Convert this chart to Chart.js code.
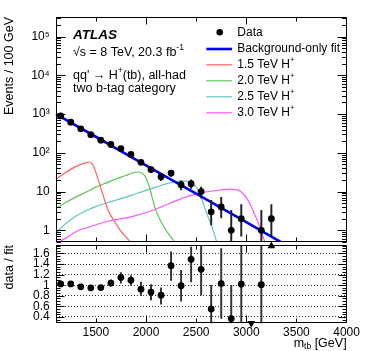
<!DOCTYPE html>
<html><head><meta charset="utf-8">
<script src="https://cdn.jsdelivr.net/npm/chart.js@4/dist/chart.umd.min.js"></script>
<style>
html,body{margin:0;padding:0;background:#fff;}
#wrap{position:relative;width:366px;height:351px;overflow:hidden;background:#fff;}
canvas{position:absolute;left:0;}
#c1{top:0;}
#c2{top:238px;}
</style></head>
<body><div id="wrap"><canvas id="c1" width="366" height="246"></canvas><canvas id="c2" width="366" height="113"></canvas></div>
<script>
// ---------- data ----------
const binCenters = [1150,1250,1350,1450,1550,1650,1750,1850,1950,2050,2150,2250,2350,2450,2550,2650,2750,2850,2950,3050,3150,3250];
const dataCounts = [895,618,417,294,212,164,129,91,57,37,24,30,15,16,10,3,4,1,2,null,1,2];
const dataLow    = [865,593,397,277,198,151,118,81.5,49.5,31,19.1,24.5,11.1,12,6.9,1.37,2.09,0.17,0.71,null,0.17,0.71];
const dataHigh   = [925,643,437,311,227,177,140,100.5,64.5,43,28.9,35.5,18.9,20,13.1,5.92,7.16,3.3,4.64,null,3.3,4.64];

const fitMass = [1100,1500,2000,2500,3000,3343];
const fitVals = [1010,260,47.5,8.8,1.62,0.5];

const sig15Mass = [1100,1200,1300,1400,1430,1460,1490,1515,1540,1570,1600,1625,1650,1700,1750,1800,1845];
const sig15Vals = [21,31,44,56,58,53,38,24,15,8.5,4.8,3.2,2.4,1.5,0.95,0.68,0.5];
const sig20Mass = [1100,1200,1300,1400,1500,1600,1700,1800,1880,1920,1960,1990,2015,2040,2065,2090,2120,2160,2200,2240,2285];
const sig20Vals = [3.6,5.2,7.2,9.6,13,16.5,21,26,31,32,30,25,18,11.5,6.5,3.8,2.4,1.5,1.0,0.72,0.5];
const sig25Mass = [1100,1200,1300,1400,1500,1600,1700,1800,1900,2000,2100,2200,2300,2360,2420,2470,2510,2540,2570,2600,2640,2670,2705];
const sig25Vals = [0.85,1.5,2.3,3.2,4.1,5.0,6.0,7.2,8.8,10.7,13,15.8,18.2,19,18,15.5,12,8,5,3,1.6,1.0,0.5];
const sig30Mass = [1130,1200,1300,1440,1640,1840,1940,2040,2140,2240,2340,2440,2540,2640,2740,2840,2900,2950,3000,3040,3080,3110,3150,3185];
const sig30Vals = [0.5,0.63,0.92,1.24,1.77,2.2,2.6,3.1,3.9,5.0,6.4,7.9,9.1,10.2,11.0,11.6,11.2,9.8,7.0,4.6,2.7,1.8,0.95,0.5];

const ratioVals = [1.025,1.025,0.97,0.95,0.955,1.04,1.145,1.095,0.925,0.87,0.81,1.37,0.99,1.49,1.30,0.55,1.03,0.37,1.02,null,1.01,null];
const ratioLow  = [0.99,0.99,0.935,0.915,0.92,0.98,1.04,1.0,0.8,0.72,0.64,1.09,0.70,1.06,0.81,0.2,0.37,0.1,0.1,null,0.1,null];
const ratioHigh = [1.06,1.06,1.005,0.985,0.99,1.10,1.24,1.18,1.06,1.01,0.95,1.63,1.28,1.72,1.74,1.0,1.69,1.0,2.0,null,3.0,null];
const ratioDownMass = [3050]; // off-scale low
const ratioUpMass = [3250];   // off-scale high

const topTickValues = [1,10,100,1000,10000,100000];
const topTickLabels = ['1','10','10\u00B2','10\u00B3','10\u2074','10\u2075'];
const ratioTickValues = [0.4,0.6,0.8,1.0,1.2,1.4,1.6];
const ratioTickLabels = ['0.4','0.6','0.8','1','1.2','1.4','1.6'];
const xTickValues = [1500,2000,2500,3000,3500,4000];
const xTickLabels = ['1500','2000','2500','3000','3500','4000'];

const legendLabels = ['Data','Background-only fit','1.5 TeV H','2.0 TeV H','2.5 TeV H','3.0 TeV H'];
const colors = {fit:'#0000ff', s15:'#ff6060', s20:'#5fc45f', s25:'#62c6c6', s30:'#ff55ff'};

// ---------- helpers ----------
const FONT = '"Liberation Sans", Arial, Helvetica, sans-serif';
const X_MIN = 1100, X_MAX = 4000;
const AREA_LEFT = 55.7, PAD_RIGHT = 19.4;

function pts(xs, ys){ const o=[]; xs.forEach((x,i)=>{ if(ys[i]!==null) o.push({x:x,y:ys[i]}); }); return o; }
function bars(xs, lo, hi){ const o=[]; xs.forEach((x,i)=>{ if(lo[i]!==null) o.push({x:x,y:[lo[i],hi[i]]}); }); return o; }
function noPad(s){ s.paddingTop=0; s.paddingBottom=0; s.paddingLeft=0; s.paddingRight=0; }

function rich(ctx, x, y, segs, align){
  let w = 0;
  segs.forEach(s=>{ ctx.font=(s[3]||'')+' '+s[1]+'px '+FONT; w += ctx.measureText(s[0]).width; });
  let cx = align==='right' ? x - w : x;
  segs.forEach(s=>{ ctx.font=(s[3]||'')+' '+s[1]+'px '+FONT; ctx.fillText(s[0], cx, y + (s[2]||0)); cx += ctx.measureText(s[0]).width; });
}

function frameAndTicks(chart, isLog){
  const {ctx, chartArea:a, scales:{x,y}} = chart;
  ctx.save();
  ctx.strokeStyle='#000'; ctx.lineWidth=1;
  const L = Math.round(a.left)+0.5, R = Math.round(a.right)-0.5, T = Math.round(a.top)+0.5, B = Math.round(a.bottom)-0.5;
  ctx.beginPath();
  for(let v=1500; v<4000; v+=500){
    const px = Math.round(x.getPixelForValue(v))+0.5;
    const len = (v%1000===0)?7:4;
    ctx.moveTo(px,B); ctx.lineTo(px,B-len);
    ctx.moveTo(px,T); ctx.lineTo(px,T+len);
  }
  const yt = [];
  if(isLog){
    for(let d=-1; d<=5; d++){
      for(let m=1; m<10; m++){
        const v = m*Math.pow(10,d);
        if(v<y.min||v>y.max) continue;
        yt.push([v, m===1?9:4.5]);
      }
    }
  } else {
    for(let k=6; k<=35; k++){
      const v = k*0.05;
      if(v<y.min||v>y.max) continue;
      yt.push([v, (k%4===0)?8:4]);
    }
  }
  yt.forEach(([v,len])=>{
    const py = Math.round(y.getPixelForValue(v))+0.5;
    ctx.moveTo(L,py); ctx.lineTo(L+len,py);
    ctx.moveTo(R,py); ctx.lineTo(R-len,py);
  });
  ctx.stroke();
  ctx.strokeRect(L, T, R-L, B-T);
  ctx.restore();
}

const topDecor = {
  id:'topDecor',
  afterDraw(chart){
    frameAndTicks(chart, true);
    const ctx = chart.ctx;
    ctx.save();
    ctx.fillStyle='#000'; ctx.textBaseline='middle';
    rich(ctx, 73, 35, [['ATLAS',13.5,0,'italic bold']]);
    rich(ctx, 73, 53, [['\u221As = 8 TeV, 20.3 fb',12.5,0],['-1',8.5,-5]]);
    rich(ctx, 73, 76, [["qq' \u2192 H",12.5,0],['+',8.5,-5],['(tb), all-had',12.5,0]]);
    rich(ctx, 73, 89, [['two b-tag category',12.5,0]]);
    const lx0 = 206.3, lx1 = 232, tx = 237.3;
    const ly = [32.3, 49, 64.8, 80.8, 96.8, 112.8];
    ctx.beginPath(); ctx.arc(219.7, ly[0], 3.3, 0, Math.PI*2); ctx.fill();
    const lc = [null, colors.fit, colors.s15, colors.s20, colors.s25, colors.s30];
    const lw = [0, 2.6, 1.2, 1.2, 1.2, 1.2];
    for(let i=1;i<6;i++){
      ctx.strokeStyle = lc[i]; ctx.lineWidth = lw[i];
      ctx.beginPath(); ctx.moveTo(lx0, ly[i]); ctx.lineTo(lx1, ly[i]); ctx.stroke();
    }
    rich(ctx, tx, ly[0], [[legendLabels[0],12,0]]);
    rich(ctx, tx, ly[1], [[legendLabels[1],12,0]]);
    for(let i=2;i<6;i++) rich(ctx, tx, ly[i], [[legendLabels[i],12,0],['+',7.5,-4.5]]);
    ctx.restore();
  }
};

const botDecor = {
  id:'botDecor',
  afterDraw(chart){
    frameAndTicks(chart, false);
    const ctx = chart.ctx;
    ctx.save(); ctx.fillStyle='#000'; ctx.textBaseline='middle';
    rich(ctx, chart.chartArea.right, 106, [['m',12.5,0],['tb',8.5,3],[' [GeV]',12.5,0]], 'right');
    ctx.restore();
  }
};

const lineDS = (data, color, width, order) => ({type:'line', data, borderColor:color, borderWidth:width, pointRadius:0, fill:false, cubicInterpolationMode:'monotone', order});

// ---------- top panel ----------
new Chart(document.getElementById('c1'), {
  type:'line',
  data:{datasets:[
    {type:'line', data:pts(binCenters,dataCounts), showLine:false, pointRadius:3.4, pointBackgroundColor:'#000', pointBorderWidth:0, order:0},
    {type:'bar', data:bars(binCenters,dataLow,dataHigh), backgroundColor:'#222', barThickness:1.3, borderWidth:0, order:1},
    lineDS(pts(fitMass,fitVals), colors.fit, 2.6, 2),
    lineDS(pts(sig15Mass,sig15Vals), colors.s15, 1.2, 3),
    lineDS(pts(sig20Mass,sig20Vals), colors.s20, 1.2, 4),
    lineDS(pts(sig25Mass,sig25Vals), colors.s25, 1.2, 5),
    lineDS(pts(sig30Mass,sig30Vals), colors.s30, 1.2, 6)
  ]},
  options:{
    responsive:false, animation:false, events:[],
    layout:{padding:{left:0,right:PAD_RIGHT,top:17,bottom:1}},
    plugins:{legend:{display:false}, tooltip:{enabled:false}},
    scales:{
      x:{type:'linear', min:X_MIN, max:X_MAX, display:false, offset:false},
      y:{type:'logarithmic', min:0.5, max:3.2e5,
        afterFit(s){ s.width = AREA_LEFT; noPad(s); },
        afterBuildTicks(s){ s.ticks = topTickValues.map(v=>({value:v})); },
        ticks:{callback:(v)=>{ const i=topTickValues.indexOf(v); return i<0?'':topTickLabels[i]; }, color:'#000', font:{family:FONT,size:12}, padding:6, autoSkip:false},
        grid:{display:false, drawTicks:false}, border:{display:false},
        title:{display:true, text:'Events / 100 GeV', align:'end', color:'#000', font:{family:FONT,size:12.5}, padding:{top:2,bottom:0}}
      }
    }
  },
  plugins:[topDecor]
});

// ---------- ratio panel ----------
new Chart(document.getElementById('c2'), {
  type:'line',
  data:{datasets:[
    {type:'line', data:pts(binCenters,ratioVals), showLine:false, pointRadius:3.4, pointBackgroundColor:'#000', pointBorderWidth:0, order:0},
    {type:'bar', data:bars(binCenters,ratioLow,ratioHigh), backgroundColor:'#333', barThickness:1.3, borderWidth:0, order:1},
    {type:'line', data:ratioDownMass.map(m=>({x:m,y:0.28})), showLine:false, pointStyle:'triangle', rotation:180, pointRadius:4.5, pointBackgroundColor:'#000', pointBorderWidth:0, clip:false, order:0},
    {type:'line', data:ratioUpMass.map(m=>({x:m,y:1.74})), showLine:false, pointStyle:'triangle', pointRadius:4.5, pointBackgroundColor:'#000', pointBorderWidth:0, clip:false, order:0}
  ]},
  options:{
    responsive:false, animation:false, events:[],
    layout:{padding:{left:0,right:PAD_RIGHT,top:7,bottom:0}},
    plugins:{legend:{display:false}, tooltip:{enabled:false}},
    scales:{
      x:{type:'linear', min:X_MIN, max:X_MAX, offset:false,
        afterFit(s){ s.height = 27.7; noPad(s); },
        afterBuildTicks(s){ s.ticks = xTickValues.map(v=>({value:v})); },
        ticks:{callback:(v)=>{ const i=xTickValues.indexOf(v); return i<0?'':xTickLabels[i]; }, color:'#000', font:{family:FONT,size:12}, padding:2, maxRotation:0, autoSkip:false},
        grid:{display:false, drawTicks:false}, border:{display:false}
      },
      y:{type:'linear', min:0.28, max:1.76,
        afterFit(s){ s.width = AREA_LEFT; noPad(s); },
        afterBuildTicks(s){ s.ticks = ratioTickValues.map(v=>({value:v})); },
        ticks:{callback:(v)=>{ const i=ratioTickValues.findIndex(t=>Math.abs(t-v)<1e-6); return i<0?'':ratioTickLabels[i]; }, color:'#000', font:{family:FONT,size:12}, padding:6, autoSkip:false},
        grid:{display:true, drawTicks:false, color:'rgba(0,0,0,0.8)', lineWidth:1, borderDash:[1,2]},
        border:{display:false, dash:[1,2]},
        title:{display:true, text:'data / fit', align:'end', color:'#000', font:{family:FONT,size:12.5}, padding:{top:2,bottom:0}}
      }
    }
  },
  plugins:[botDecor]
});
</script>
</body></html>
